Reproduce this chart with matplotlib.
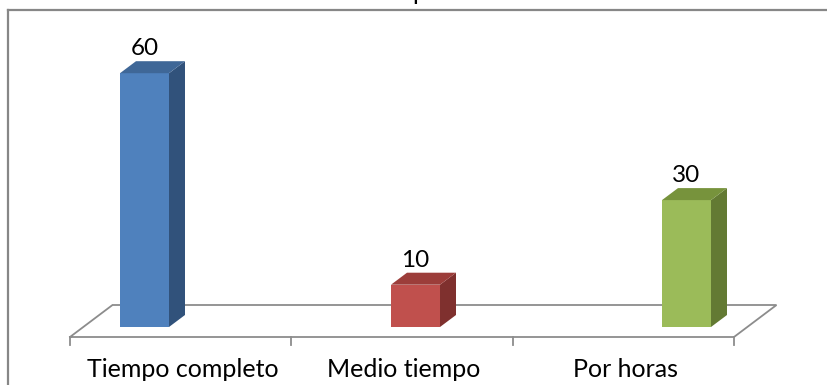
import matplotlib
matplotlib.use('Agg')
from matplotlib import pyplot as plt
from matplotlib.patches import Polygon

categories = ['Tiempo completo', 'Medio tiempo', 'Por horas']
values = [60, 10, 30]

front_colors = ['#4F81BD', '#C0504D', '#9BBB59']
top_colors = ['#3F6797', '#9C3D3A', '#77933C']
side_colors = ['#31527B', '#7F302E', '#637A33']

plt.rcParams['font.family'] = ['Lato', 'DejaVu Sans']

W, H = 828, 385
fig = plt.figure(figsize=(W / 100, H / 100), dpi=100)
ax = fig.add_axes([0, 0, 1, 1])
ax.axis('off')

# pixel <-> data mapping (x: category index, y: value)
x0, sx = 144.5, 271.0      # px of first bar centre, px per category
y0, sy = 58.0, 4.23        # px (from bottom) of value 0, px per unit
ax.set_xlim(-x0 / sx, (W - x0) / sx)
ax.set_ylim(-y0 / sy, (H - y0) / sy)

def px(dx):
    return dx / sx

def py(dy):
    return dy / sy

# floor parallelogram
fl, fr = px(70 - x0), px(734 - x0)
fy = py(48 - y0)
ddx, ddy = px(42.5), py(32)
floor_col = '#8C8C8C'
ax.plot([fl, fr, fr + ddx, fl + ddx, fl], [fy, fy, fy + ddy, fy + ddy, fy],
        color=floor_col, lw=1.3, zorder=1, solid_joinstyle='miter')
n = len(categories)
ticks = [fl + (fr - fl) * k / n for k in range(n + 1)]
for t in ticks:
    ax.plot([t, t], [fy, fy - py(8)], color=floor_col, lw=1.3, zorder=1)

# 3d bars
w = px(49)
bx, by = px(16), py(12)
xs = list(range(n))
ax.bar(xs, values, width=w, color=front_colors, zorder=3, linewidth=0)
for x, v, tc, sc in zip(xs, values, top_colors, side_colors):
    l, r = x - w / 2, x + w / 2
    ax.add_patch(Polygon([(r, 0), (r + bx, by), (r + bx, v + by), (r, v)],
                         closed=True, fc=sc, ec='none', zorder=3))
    ax.add_patch(Polygon([(l, v), (l + bx, v + by), (r + bx, v + by), (r, v)],
                         closed=True, fc=tc, ec='none', zorder=3))
    ax.text(x, v + py(18), str(v), ha='center', va='baseline',
            fontsize=17.5, color='black', zorder=4)

# category labels
for k, c in enumerate(categories):
    cx = (ticks[k] + ticks[k + 1]) / 2
    ax.text(cx + px(2), py(8 - y0), c, ha='center', va='baseline',
            fontsize=18, color='black')

# chart area border (left and top only visible)
border = '#878787'
ax.plot([px(8.5 - x0), px(8.5 - x0)], [py(-y0), py(H - 10 - y0)],
        color=border, lw=1.6, zorder=5, clip_on=False)
ax.plot([px(8.5 - x0), px(W - x0)], [py(H - 10 - y0), py(H - 10 - y0)],
        color=border, lw=1.6, zorder=5, clip_on=False)

# title cut off at the top edge
fig.text(412 / W, 1.0, 'p', ha='left', va='baseline', fontsize=18,
         color='black')

fig.savefig('out.png', dpi=100)
